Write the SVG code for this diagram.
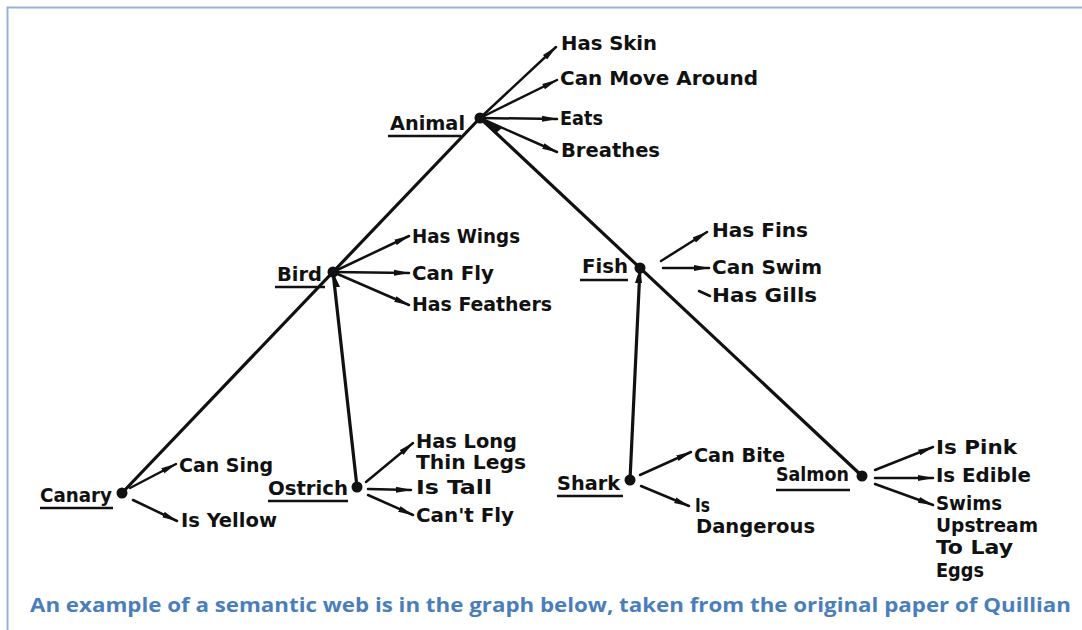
<svg xmlns="http://www.w3.org/2000/svg" width="1082" height="630" viewBox="0 0 1082 630">
  <style>
    .lbl { font-family: "DejaVu Sans Condensed", "DejaVu Sans", "Liberation Sans", sans-serif; font-weight: bold; font-size: 19px; fill: #111; }
    .edge { stroke: #111; stroke-width: 3.2; fill: none; stroke-linecap: round; }
    .attr { stroke: #111; stroke-width: 2.5; fill: none; stroke-linecap: round; }
    .ul { stroke: #111; stroke-width: 2.6; }
    .dot { fill: #111; }
    .cap { font-family: "Open Sans", "Liberation Sans", sans-serif; font-weight: bold; font-size: 20px; fill: #4a7ebb; }
  </style>
  <defs>
    <marker id="head" viewBox="0 0 16 7" refX="15" refY="3.5" markerWidth="16" markerHeight="7" markerUnits="userSpaceOnUse" orient="auto">
      <path d="M0,0.5 L16,3.5 L0,6.5 Z" fill="#111"/>
    </marker>
  </defs>

  <rect width="1082" height="630" fill="#fff"/>
  <!-- frame -->
  <path d="M7.5,630 V7.5 H1082" fill="none" stroke="#95b3d7" stroke-width="2"/>

  <!-- connectors -->
  <g id="connectors">
    <!-- is-a links -->
    <line class="edge" x1="122" y1="493" x2="480" y2="118"/>
    <line class="edge" x1="862" y1="476" x2="480" y2="118"/>
    <line class="edge" x1="357" y1="487" x2="333" y2="272"/>
    <line class="edge" x1="630" y1="480" x2="640" y2="268"/>
    <!-- heads at parent ends -->
    <path d="M495,134 L484,120 L502,128 Z" fill="#111"/>
    <path d="M334,287 L333,272 L340,287 Z" fill="#111"/>
    <path d="M635,283 L640,268 L642,283 Z" fill="#111"/>
    <!-- Animal properties -->
    <line class="attr" x1="480" y1="118" x2="556" y2="47" marker-end="url(#head)"/>
    <line class="attr" x1="480" y1="118" x2="557" y2="80" marker-end="url(#head)"/>
    <line class="attr" x1="480" y1="118" x2="557" y2="119" marker-end="url(#head)"/>
    <line class="attr" x1="480" y1="118" x2="557" y2="152" marker-end="url(#head)"/>
    <!-- Bird properties -->
    <line class="attr" x1="333" y1="272" x2="409" y2="236" marker-end="url(#head)"/>
    <line class="attr" x1="333" y1="272" x2="409" y2="273" marker-end="url(#head)"/>
    <line class="attr" x1="333" y1="272" x2="409" y2="305" marker-end="url(#head)"/>
    <!-- Fish properties -->
    <line class="attr" x1="661" y1="261" x2="707" y2="232" marker-end="url(#head)"/>
    <line class="attr" x1="663" y1="268" x2="709" y2="268" marker-end="url(#head)"/>
    <line class="attr" x1="699" y1="291" x2="710" y2="296"/>
    <!-- Canary properties -->
    <line class="attr" x1="130" y1="488" x2="176" y2="464" marker-end="url(#head)"/>
    <line class="attr" x1="133" y1="500" x2="177" y2="521" marker-end="url(#head)"/>
    <!-- Ostrich properties -->
    <line class="attr" x1="366" y1="482" x2="413" y2="443" marker-end="url(#head)"/>
    <line class="attr" x1="368" y1="489" x2="411" y2="490" marker-end="url(#head)"/>
    <line class="attr" x1="368" y1="495" x2="413" y2="515" marker-end="url(#head)"/>
    <!-- Shark properties -->
    <line class="attr" x1="640" y1="475" x2="691" y2="452" marker-end="url(#head)"/>
    <line class="attr" x1="641" y1="486" x2="689" y2="506" marker-end="url(#head)"/>
    <!-- Salmon properties -->
    <line class="attr" x1="875" y1="470" x2="933" y2="447" marker-end="url(#head)"/>
    <line class="attr" x1="875" y1="478" x2="933" y2="478" marker-end="url(#head)"/>
    <line class="attr" x1="875" y1="484" x2="933" y2="505" marker-end="url(#head)"/>
  </g>

  <g id="animal">
    <circle class="dot" cx="480" cy="118" r="5.5"/>
    <text class="lbl" x="390" y="130" textLength="75" lengthAdjust="spacingAndGlyphs">Animal</text>
    <line class="ul" x1="388" y1="136" x2="461" y2="136"/>
    <text class="lbl" x="561" y="50" textLength="96" lengthAdjust="spacingAndGlyphs">Has Skin</text>
    <text class="lbl" x="560" y="85" textLength="198" lengthAdjust="spacingAndGlyphs">Can Move Around</text>
    <text class="lbl" x="560" y="125" textLength="43" lengthAdjust="spacingAndGlyphs">Eats</text>
    <text class="lbl" x="561" y="157" textLength="99" lengthAdjust="spacingAndGlyphs">Breathes</text>
  </g>

  <g id="bird">
    <circle class="dot" cx="333" cy="272" r="5.5"/>
    <text class="lbl" x="277" y="281" textLength="45" lengthAdjust="spacingAndGlyphs">Bird</text>
    <line class="ul" x1="275" y1="287" x2="325" y2="287"/>
    <text class="lbl" x="412" y="243" textLength="108" lengthAdjust="spacingAndGlyphs">Has Wings</text>
    <text class="lbl" x="412" y="280" textLength="82" lengthAdjust="spacingAndGlyphs">Can Fly</text>
    <text class="lbl" x="412" y="311" textLength="140" lengthAdjust="spacingAndGlyphs">Has Feathers</text>
  </g>

  <g id="fish">
    <circle class="dot" cx="640" cy="268" r="5.5"/>
    <text class="lbl" x="582" y="273" textLength="46" lengthAdjust="spacingAndGlyphs">Fish</text>
    <line class="ul" x1="580" y1="280" x2="628" y2="280"/>
    <text class="lbl" x="712" y="237" textLength="96" lengthAdjust="spacingAndGlyphs">Has Fins</text>
    <text class="lbl" x="712" y="274" textLength="110" lengthAdjust="spacingAndGlyphs">Can Swim</text>
    <text class="lbl" x="712" y="302" textLength="105" lengthAdjust="spacingAndGlyphs">Has Gills</text>
  </g>

  <g id="canary">
    <circle class="dot" cx="122" cy="493" r="5.5"/>
    <text class="lbl" x="40" y="502" textLength="72" lengthAdjust="spacingAndGlyphs">Canary</text>
    <line class="ul" x1="40" y1="508" x2="113" y2="508"/>
    <text class="lbl" x="179" y="472" textLength="94" lengthAdjust="spacingAndGlyphs">Can Sing</text>
    <text class="lbl" x="181" y="527" textLength="96" lengthAdjust="spacingAndGlyphs">Is Yellow</text>
  </g>

  <g id="ostrich">
    <circle class="dot" cx="357" cy="487" r="5.5"/>
    <text class="lbl" x="268" y="495" textLength="80" lengthAdjust="spacingAndGlyphs">Ostrich</text>
    <line class="ul" x1="268" y1="501" x2="348" y2="501"/>
    <text class="lbl" x="416" y="448" textLength="101" lengthAdjust="spacingAndGlyphs">Has Long</text>
    <text class="lbl" x="416" y="469" textLength="110" lengthAdjust="spacingAndGlyphs">Thin Legs</text>
    <text class="lbl" x="416" y="494" textLength="76" lengthAdjust="spacingAndGlyphs">Is Tall</text>
    <text class="lbl" x="416" y="522" textLength="98" lengthAdjust="spacingAndGlyphs">Can't Fly</text>
  </g>

  <g id="shark">
    <circle class="dot" cx="630" cy="480" r="5.5"/>
    <text class="lbl" x="557" y="490" textLength="63" lengthAdjust="spacingAndGlyphs">Shark</text>
    <line class="ul" x1="557" y1="496" x2="623" y2="496"/>
    <text class="lbl" x="694" y="462" textLength="91" lengthAdjust="spacingAndGlyphs">Can Bite</text>
    <text class="lbl" x="695" y="512" textLength="15" lengthAdjust="spacingAndGlyphs">Is</text>
    <text class="lbl" x="696" y="533" textLength="119" lengthAdjust="spacingAndGlyphs">Dangerous</text>
  </g>

  <g id="salmon">
    <circle class="dot" cx="862" cy="476" r="5.5"/>
    <text class="lbl" x="776" y="481" textLength="73" lengthAdjust="spacingAndGlyphs">Salmon</text>
    <line class="ul" x1="776" y1="490" x2="850" y2="490"/>
    <text class="lbl" x="936" y="454" textLength="81" lengthAdjust="spacingAndGlyphs">Is Pink</text>
    <text class="lbl" x="936" y="482" textLength="95" lengthAdjust="spacingAndGlyphs">Is Edible</text>
    <text class="lbl" x="936" y="510" textLength="66" lengthAdjust="spacingAndGlyphs">Swims</text>
    <text class="lbl" x="936" y="532" textLength="102" lengthAdjust="spacingAndGlyphs">Upstream</text>
    <text class="lbl" x="936" y="554" textLength="77" lengthAdjust="spacingAndGlyphs">To Lay</text>
    <text class="lbl" x="936" y="577" textLength="48" lengthAdjust="spacingAndGlyphs">Eggs</text>
  </g>

  <text class="cap" x="30" y="612" textLength="1041" lengthAdjust="spacingAndGlyphs">An example of a semantic web is in the graph below, taken from the original paper of Quillian</text>
</svg>
